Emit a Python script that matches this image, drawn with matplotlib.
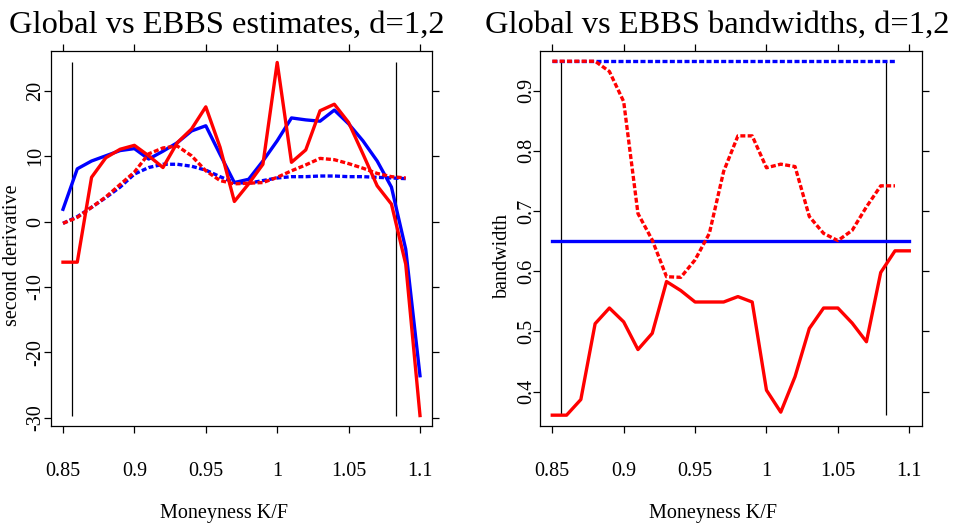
import numpy as np
import matplotlib
matplotlib.use("Agg")
import matplotlib.pyplot as plt

plt.rcParams["font.family"] = ["Liberation Serif", "DejaVu Serif"]
plt.rcParams["axes.unicode_minus"] = False

# moneyness grid K/F
moneyness = np.round(np.arange(0.85, 1.1001, 0.01), 2)
moneyness_d2 = moneyness[:-1]

# second derivative estimates
est_global_d1 = [1.9, 8.1, 9.3, 10.1, 10.9, 11.2, 9.6, 10.8, 12.1, 13.9, 14.7, 10.3, 6.0,
                 6.5, 9.3, 12.4, 15.9, 15.6, 15.4, 17.1, 15.0, 12.4, 9.3, 5.3, -4.2, -23.6]
est_ebbs_d1 = [-6.2, -6.2, 6.8, 9.8, 11.1, 11.7, 10.1, 8.3, 12.1, 14.2, 17.6, 11.4, 3.1,
               5.8, 8.8, 24.4, 9.1, 11.0, 17.0, 18.0, 15.2, 10.4, 5.5, 2.7, -6.5, -29.7]
est_global_d2 = [-0.25, 0.77, 2.2, 3.7, 5.3, 7.3, 8.3, 8.8, 8.8, 8.5, 7.9, 6.9, 6.0,
                 5.9, 6.3, 6.7, 6.9, 6.9, 7.0, 7.0, 6.9, 6.9, 6.8, 6.7, 6.6]
est_ebbs_d2 = [-0.25, 0.66, 2.2, 3.8, 5.7, 7.6, 10.4, 11.3, 11.6, 10.1, 7.8, 6.3, 5.8,
               5.9, 6.0, 6.8, 7.8, 8.7, 9.7, 9.5, 8.9, 8.2, 7.4, 6.9, 6.7]

# bandwidths
bw_global_d1 = [0.65] * len(moneyness)
bw_ebbs_d1 = [0.361, 0.361, 0.387, 0.513, 0.539, 0.516, 0.470, 0.497, 0.583, 0.568, 0.549,
              0.549, 0.549, 0.558, 0.549, 0.4025, 0.366, 0.425, 0.505, 0.539, 0.539, 0.514,
              0.483, 0.598, 0.634, 0.634]
bw_global_d2 = [0.949] * len(moneyness_d2)
bw_ebbs_d2 = [0.949, 0.949, 0.949, 0.949, 0.932, 0.882, 0.696, 0.652, 0.591, 0.590, 0.619,
              0.663, 0.766, 0.825, 0.825, 0.772, 0.778, 0.774, 0.691, 0.663, 0.651, 0.668,
              0.707, 0.742, 0.742]

# range of reliable estimation
cut_lo, cut_hi = 0.8563, 1.0835

xticks = [0.85, 0.9, 0.95, 1.0, 1.05, 1.1]
xticklabels = ["0.85", "0.9", "0.95", "1", "1.05", "1.1"]
est_ticks = [-30, -20, -10, 0, 10, 20]
bw_ticks = [0.4, 0.5, 0.6, 0.7, 0.8, 0.9]

W, H = 954, 527
fig = plt.figure(figsize=(W / 100, H / 100), dpi=100)

ax1 = fig.add_axes([51 / W, 1 - 426 / H, 381 / W, 375.3 / H])
ax2 = fig.add_axes([540 / W, 1 - 426 / H, 381.7 / W, 375.3 / H])

dash = (1.5, 0.7)
lw = 2.4

# left panel: estimates
lo1 = min(min(est_ebbs_d1), min(est_global_d1))
hi1 = max(max(est_ebbs_d1), max(est_global_d1))
ax1.vlines([cut_lo, cut_hi], lo1, hi1, color="black", lw=0.9)
ax1.plot(moneyness, est_global_d1, color="blue", lw=lw)
ax1.plot(moneyness_d2, est_global_d2, color="blue", lw=lw, dashes=dash)
ax1.plot(moneyness, est_ebbs_d1, color="red", lw=lw)
ax1.plot(moneyness_d2, est_ebbs_d2, color="red", lw=lw, dashes=dash)
ax1.set_xlim(0.8416, 1.1084)
ax1.set_ylim(-31.3, 26.2)
ax1.set_yticks(est_ticks)
ax1.set_yticklabels([str(t) for t in est_ticks])

# right panel: bandwidths
lo2 = min(bw_ebbs_d1)
hi2 = max(bw_ebbs_d2)
ax2.vlines([cut_lo, cut_hi], lo2, hi2, color="black", lw=0.9)
ax2.plot(moneyness, bw_global_d1, color="blue", lw=lw)
ax2.plot(moneyness_d2, bw_global_d2, color="blue", lw=lw, dashes=dash)
ax2.plot(moneyness, bw_ebbs_d1, color="red", lw=lw)
ax2.plot(moneyness_d2, bw_ebbs_d2, color="red", lw=lw, dashes=dash)
ax2.set_xlim(0.8414, 1.1087)
ax2.set_ylim(0.343, 0.9665)
ax2.set_yticks(bw_ticks)
ax2.set_yticklabels([f"{t:.1f}" for t in bw_ticks])

for ax, ypad in ((ax1, -0.6), (ax2, -2.3)):
    ax.set_xticks(xticks)
    ax.set_xticklabels(xticklabels)
    for s in ax.spines.values():
        s.set_linewidth(0.9)
    ax.tick_params(direction="out", length=5, width=0.9, top=True, right=True,
                   labelsize=14.5)
    ax.tick_params(axis="x", pad=21)
    ax.tick_params(axis="y", pad=ypad, labelrotation=90)
    for lab in ax.get_yticklabels():
        lab.set_va("center")

# titles and axis labels
fig.text(227 / W, 1 - 33 / H, "Global vs EBBS estimates, d=1,2", fontsize=23.4,
         ha="center", va="baseline")
fig.text(717 / W, 1 - 33 / H, "Global vs EBBS bandwidths, d=1,2", fontsize=23.4,
         ha="center", va="baseline")
fig.text(224 / W, 1 - 518 / H, "Moneyness K/F", fontsize=14.5, ha="center", va="baseline")
fig.text(713 / W, 1 - 518 / H, "Moneyness K/F", fontsize=14.5, ha="center", va="baseline")
fig.text(13 / W, 1 - 255 / H, "second derivative", fontsize=14.5, rotation=90,
         ha="center", va="center")
fig.text(502 / W, 1 - 255 / H, "bandwidth", fontsize=14.5, rotation=90,
         ha="center", va="center")

fig.savefig("out.png", dpi=100)
